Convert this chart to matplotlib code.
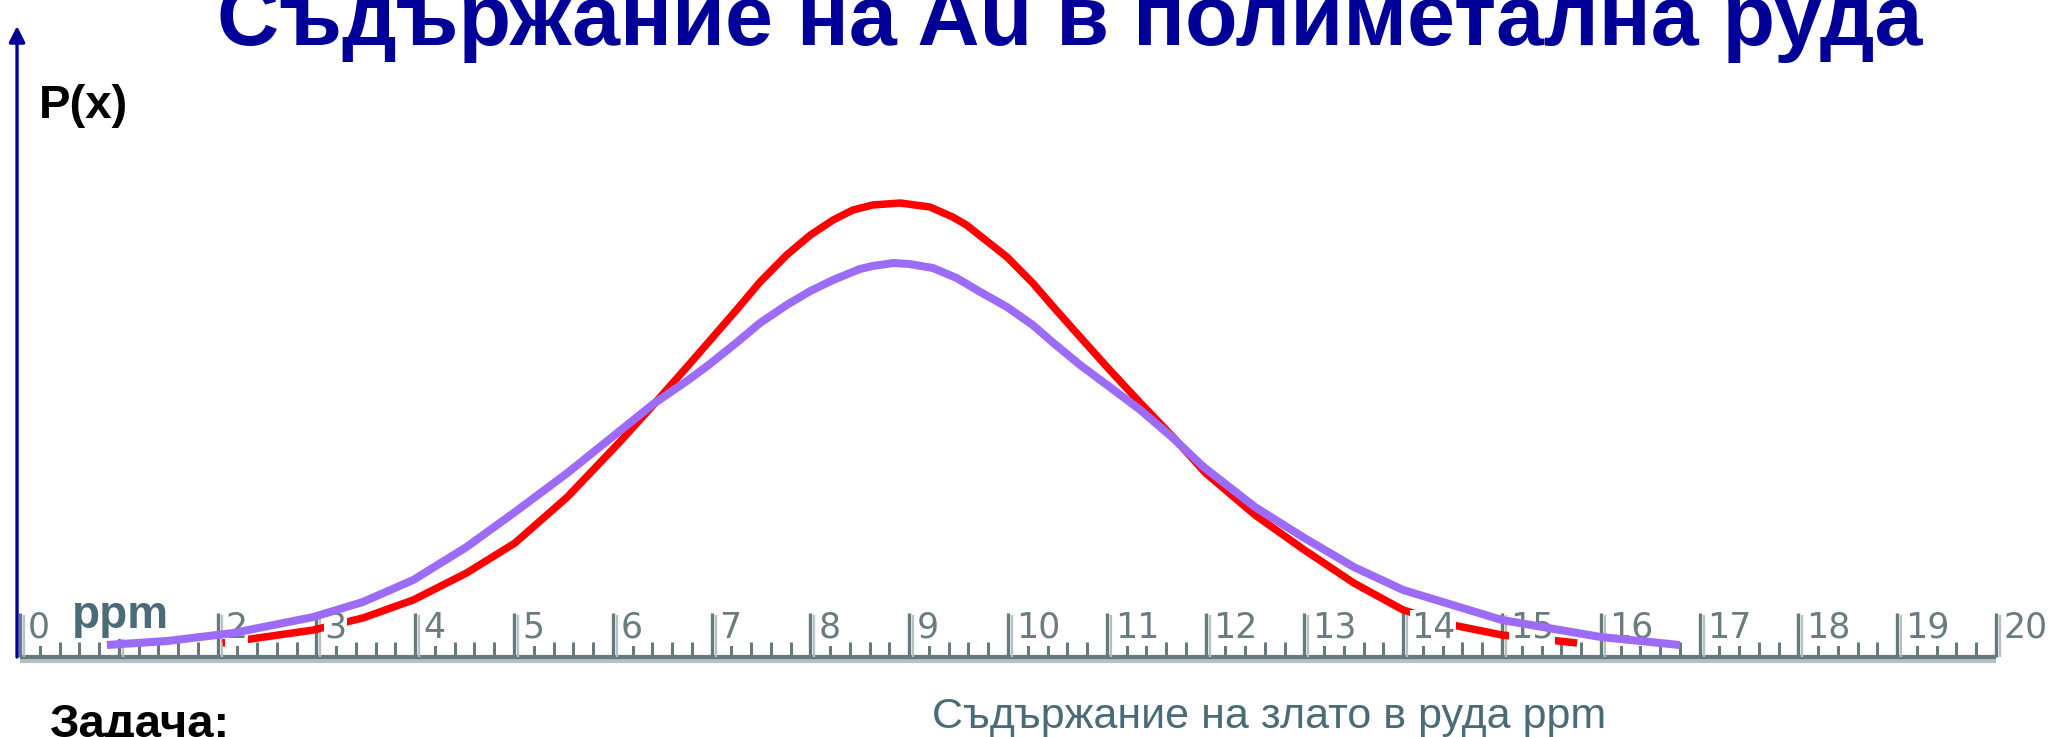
import matplotlib.pyplot as plt

plt.rcParams["font.family"] = ["Liberation Sans", "DejaVu Sans"]

W, H = 2053, 737

# ppm values along the ruler and curve heights (arbitrary units)
x_red = [2.05, 2.97, 3.47, 3.98, 4.52, 5.01, 5.54, 6.07, 6.41, 6.75, 6.97, 7.26,
         7.49, 7.76, 8.0, 8.23, 8.43, 8.63, 8.91, 9.21, 9.44, 9.58, 9.99, 10.25,
         10.46, 10.73, 11.03, 11.34, 11.67, 12.0, 12.5, 13.0, 13.5, 14.0, 14.5,
         15.0, 15.76]
p_red = [0.02, 0.15, 0.27, 0.45, 0.72, 1.02, 1.48, 2.03, 2.40, 2.78, 3.03, 3.36,
         3.63, 3.90, 4.10, 4.25, 4.35, 4.40, 4.42, 4.38, 4.28, 4.20, 3.88, 3.62,
         3.38, 3.08, 2.75, 2.42, 2.08, 1.72, 1.30, 0.95, 0.62, 0.35, 0.20,
         0.10, 0.02]

x_purple = [0.88, 1.49, 2.16, 2.97, 3.47, 3.98, 4.52, 5.01, 5.54, 6.07, 6.41, 6.75,
            6.97, 7.26, 7.49, 7.76, 8.0, 8.23, 8.5, 8.63, 8.84, 9.0, 9.24, 9.48,
            9.72, 9.99, 10.25, 10.46, 10.73, 11.03, 11.34, 11.67, 11.98, 12.5,
            13.0, 13.5, 14.0, 15.0, 16.0, 16.8]
p_purple = [0.0, 0.04, 0.12, 0.28, 0.43, 0.65, 0.98, 1.33, 1.72, 2.14, 2.41, 2.64,
            2.80, 3.03, 3.22, 3.40, 3.54, 3.65, 3.76, 3.79, 3.82, 3.81, 3.77, 3.67,
            3.53, 3.38, 3.20, 3.02, 2.80, 2.58, 2.35, 2.07, 1.78, 1.38,
            1.07, 0.78, 0.55, 0.25, 0.08, 0.0]

ruler_ticks = list(range(0, 21))
ruler_labels = [str(t) for t in ruler_ticks]

title = "Съдържание на Au в полиметална руда"
y_label = "P(x)"
unit_label = "ppm"
task_label = "Задача:"
x_caption = "Съдържание на злато в руда ppm"

NAVY = "#000099"
SLATE = "#4a6b78"
RULER_DARK = "#667a7e"
RULER_LIGHT = "#b4c0c1"


def fx(px):
    return px / W


def fy(py):
    return 1 - py / H


fig = plt.figure(figsize=(W / 100, H / 100), dpi=100)
ax = fig.add_axes([0, 0, 1, 1])
ax.set_xlim(-0.2024, 20.577)
ax.set_ylim(-0.92, 6.45)
ax.axis("off")

# ruler: base bar, minor ticks every 0.2, major ticks at integers
ax.plot([0, 20], [-0.155, -0.155], color=RULER_LIGHT, lw=3.0, solid_capstyle="butt", zorder=1)
ax.plot([0, 20], [-0.115, -0.115], color=RULER_DARK, lw=3.0, solid_capstyle="butt", zorder=1)
minor = [t + k * 0.2 for t in ruler_ticks[:-1] for k in range(1, 5)]
ax.vlines(minor, -0.12, 0.03, color=RULER_DARK, lw=2.2, zorder=1)
ax.vlines(ruler_ticks, -0.12, 0.32, color=RULER_DARK, lw=2.4, zorder=1)
ax.vlines([t + 0.04 for t in ruler_ticks], -0.12, 0.30, color=RULER_LIGHT, lw=1.6, zorder=1)

ax.plot(x_red, p_red, color="#ff0000", lw=5.4, solid_capstyle="butt",
        solid_joinstyle="round", zorder=2)

for t, lab in zip(ruler_ticks, ruler_labels):
    ax.text(t + 0.08, 0.17, lab, fontsize=25, family="DejaVu Sans", color="#6a7c80",
            ha="left", va="center", zorder=3,
            bbox=dict(facecolor="white", edgecolor="none", pad=0.5))

# unit label sits over the ruler digits but under the purple curve
ax.text(fx(72), fy(628), unit_label, transform=fig.transFigure, fontsize=33,
        fontweight="bold", color=SLATE, ha="left", va="baseline", zorder=3.5,
        bbox=dict(facecolor="white", edgecolor="none", pad=0.5))

ax.plot(x_purple, p_purple, color="#9d6cf7", lw=5.8, solid_capstyle="butt",
        solid_joinstyle="round", zorder=4)

# vertical axis arrow
ax.annotate("", xy=(-0.03, 6.19), xytext=(-0.03, -0.12),
            arrowprops=dict(arrowstyle="-|>", color=NAVY, lw=2.4, mutation_scale=24,
                            shrinkA=0, shrinkB=0), zorder=5)

fig.text(fx(1070), fy(45), title, fontsize=62, fontweight="bold", color=NAVY,
         ha="center", va="baseline")
fig.text(fx(39), fy(118), y_label, fontsize=34, fontweight="bold", color="black",
         ha="left", va="baseline")
fig.text(fx(50), fy(737), task_label, fontsize=34, fontweight="bold", color="black",
         ha="left", va="baseline")
fig.text(fx(932), fy(728), x_caption, fontsize=31, color=SLATE,
         ha="left", va="baseline")

fig.savefig("out.png", dpi=100)
